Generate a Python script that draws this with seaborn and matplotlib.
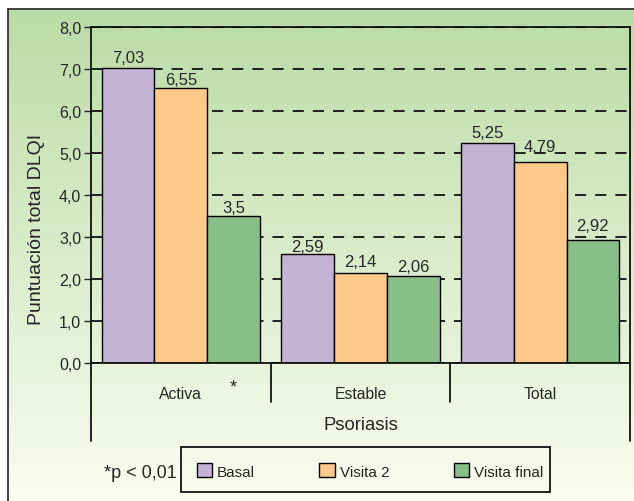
import numpy as np
import pandas as pd
import matplotlib
matplotlib.use("Agg")
import matplotlib.pyplot as plt
import matplotlib.transforms as mtransforms
from matplotlib.patches import Patch, Rectangle
from matplotlib.ticker import FuncFormatter
import seaborn as sns

categories = ["Activa", "Estable", "Total"]
visits = ["Basal", "Visita 2", "Visita final"]
basal = [7.03, 2.59, 5.25]
visita2 = [6.55, 2.14, 4.79]
visita_final = [3.5, 2.06, 2.92]
colors = ["#c5b3d6", "#fec98b", "#88bf88"]
# label offsets above bars (points), placed by hand to dodge the dashes
label_pad = [[1.8, 0.0, 1.8], [0.4, 3.2, 5.4], [0.4, 1.8, 5.4]]

rows = []
for visit, vals in zip(visits, [basal, visita2, visita_final]):
    for cat, v in zip(categories, vals):
        rows.append({"Psoriasis": cat, "Visita": visit, "DLQI": v})
df = pd.DataFrame(rows)

sns.set_style("white")
plt.rcParams["font.family"] = ["Liberation Sans", "DejaVu Sans"]

W, H = 634, 502
fig = plt.figure(figsize=(W / 100, H / 100), dpi=100)

# background panel with vertical gradient
bg = fig.add_axes([0, 0, 1, 1])
bg.set_xlim(0, W)
bg.set_ylim(H, 0)
bg.axis("off")
top = np.array([0.73, 0.86, 0.65])
bot = np.array([0.98, 0.99, 0.94])
t = np.linspace(0, 1, 256)[:, None]
grad = (top * (1 - t) + bot * t)[:, None, :]
bg.imshow(grad, extent=(8, W, H, 10), aspect="auto", zorder=0)
bg.plot([8, 8], [H, 10], color="#333333", lw=1.3, zorder=1)
bg.plot([8, W], [10, 10], color="#333333", lw=1.3, zorder=1)
bg.add_patch(Rectangle((181, 448), 369, 45, fill=False, edgecolor="black", lw=1.2, zorder=2))

ax = fig.add_axes([91 / W, (H - 364) / H, 539 / W, 336 / H])
ax.patch.set_alpha(0)

sns.barplot(data=df, x="Psoriasis", y="DLQI", hue="Visita", order=categories,
            hue_order=visits, palette=colors, width=0.88, saturation=1,
            edgecolor="black", linewidth=1, legend=False, ax=ax)
ax.set_xlim(-0.5, 2.5)

for cont, vals, pads in zip(ax.containers, [basal, visita2, visita_final], label_pad):
    for bar, v, p in zip(cont, vals, pads):
        ax.annotate(str(v).replace(".", ","), (bar.get_x() + bar.get_width() / 2, v),
                    xytext=(0, p), textcoords="offset points",
                    ha="center", va="bottom", fontsize=12)

ax.set_ylim(0, 8)
ax.set_yticks(range(0, 9))
ax.yaxis.set_major_formatter(FuncFormatter(lambda v, p: f"{v:.1f}".replace(".", ",")))
ax.yaxis.grid(True, color="black", linestyle=(0, (6.7, 5.4)), lw=1.2)
ax.set_axisbelow(True)
ax.tick_params(axis="y", length=5, width=1, direction="out", labelsize=11.5, pad=2, left=True)
ax.tick_params(axis="x", length=0, pad=16.5, labelsize=11.3)
for s in ax.spines.values():
    s.set_visible(True)
    s.set_color("black")
    s.set_linewidth(1.2)

ax.set_ylabel("Puntuación total DLQI", fontsize=14, labelpad=10)
ax.yaxis.label.set_y(0.40)
ax.set_xlabel("Psoriasis", fontsize=13.3, labelpad=11)

trans = mtransforms.blended_transform_factory(ax.transData, ax.transAxes)
for x, y0 in [(-0.5, -0.232), (0.5, -0.116), (1.5, -0.116), (2.5, -0.232)]:
    ax.plot([x, x], [0, y0], color="black", lw=1.2, transform=trans, clip_on=False)
ax.text(0.29, -0.07, "*", transform=trans, ha="center", va="center", fontsize=13)

handles = [Patch(facecolor=c, edgecolor="black", lw=1) for c in colors]
leg = fig.legend(handles, visits, loc="center", bbox_to_anchor=(370 / W, 1 - 472 / H),
                 ncol=3, fontsize=11, handlelength=1.0, handleheight=1.0,
                 handletextpad=0.33, columnspacing=4.2, frameon=False)
fig.text(177 / W, 1 - 473 / H, "*p < 0,01", ha="right", va="center", fontsize=13)

fig.savefig("out.png", dpi=100)
